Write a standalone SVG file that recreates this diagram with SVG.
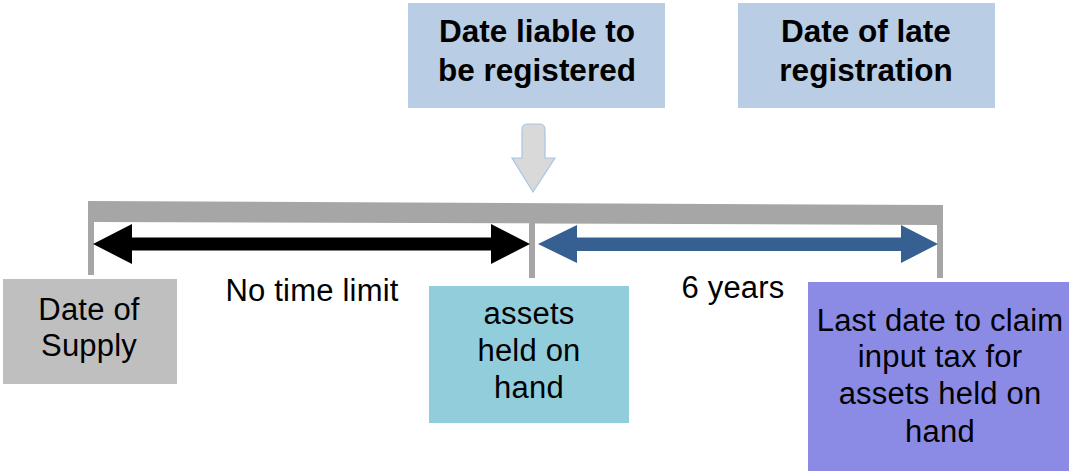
<svg xmlns="http://www.w3.org/2000/svg" width="1070" height="473" viewBox="0 0 1070 473">
<style>
text{font-family:"Liberation Sans",Arial,Helvetica,sans-serif;fill:#000;text-anchor:middle}
.b{font-weight:bold;font-size:31.5px}
.r{font-size:31px;letter-spacing:0.2px}
.top{fill:#b9cde5}
</style>
<rect width="1070" height="473" fill="#fff"/>
<g id="liable">
<rect class="top" x="408" y="3" width="257" height="105"/>
<text class="b" x="537" y="42">Date liable to</text>
<text class="b" x="537" y="81">be registered</text>
</g>
<g id="late">
<rect class="top" x="738" y="3" width="257" height="105"/>
<text class="b" x="866" y="42">Date of late</text>
<text class="b" x="866" y="81">registration</text>
</g>
<g id="connectors">
<path d="M527,124 H540 Q545,124 545,130 V158 H555 L533,192 L512,158 H522 V130 Q522,124 527,124 Z" fill="#d9d9d9" stroke="#a9c4e4" stroke-width="1.2"/>
<polygon points="88,201 943,205 943,278 937,278 937,225 535,223.5 535,278 529,278 529,223.3 94,222 94,275 88,275" fill="#a6a6a6"/>
<polygon points="93,244 132,224 132,237.5 491,237.5 491,224 530,244 491,264 491,250.5 132,250.5 132,264" fill="#000"/>
<polygon points="538,244 577,225 577,237.5 901,237.5 901,225 938,244 901,263 901,251 577,251 577,263" fill="#376092"/>
</g>
<g id="supply">
<rect x="3" y="279" width="174" height="105" fill="#bfbfbf"/>
<text class="r" x="89" y="320">Date of</text>
<text class="r" x="89" y="356">Supply</text>
</g>
<g id="nolimit">
<text class="r" x="312" y="301">No time limit</text>
</g>
<g id="years">
<text class="r" x="733" y="298">6 years</text>
</g>
<g id="assets">
<rect x="429" y="286" width="200" height="137" fill="#92cddc"/>
<text class="r" x="529" y="324">assets</text>
<text class="r" x="529" y="361">held on</text>
<text class="r" x="529" y="398">hand</text>
</g>
<g id="lastdate">
<rect x="808" y="282" width="261" height="189" fill="#8b8be6"/>
<text class="r" x="940" y="331">Last date to claim</text>
<text class="r" x="940" y="367">input tax for</text>
<text class="r" x="940" y="404">assets held on</text>
<text class="r" x="940" y="442">hand</text>
</g>
</svg>
